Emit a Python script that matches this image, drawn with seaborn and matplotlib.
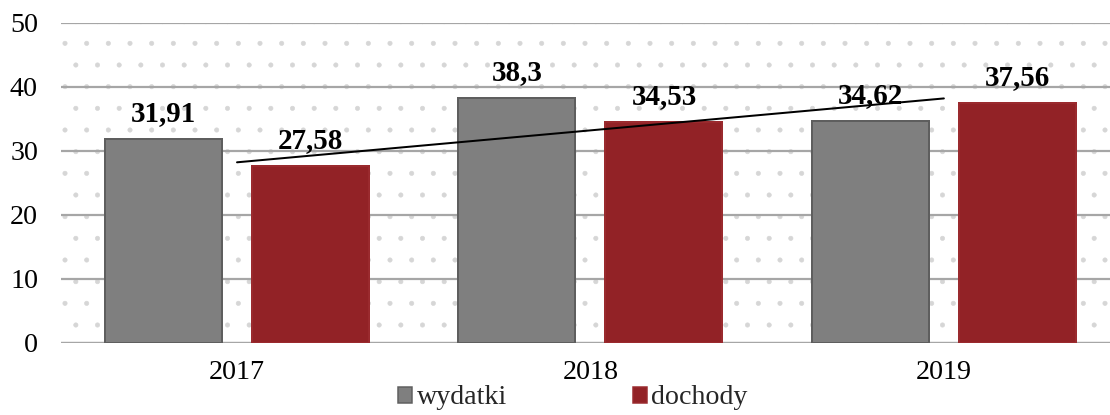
import numpy as np
import pandas as pd
import matplotlib
matplotlib.use("Agg")
import matplotlib.pyplot as plt
from matplotlib.patches import Rectangle, Patch
import seaborn as sns

years = ["2017", "2018", "2019"]
series_names = ["wydatki", "dochody"]
wydatki = [31.91, 38.3, 34.62]
dochody = [27.58, 34.53, 37.56]
y_ticks = [0, 10, 20, 30, 40, 50]

colors = {"wydatki": "#7f7f7f", "dochody": "#922226"}
edges = {"wydatki": "#5e5e5e", "dochody": "#9a2a2e"}

DPI = 130
W, H = 1110, 415


def pt(px):
    return px * 72.0 / DPI


df = pd.DataFrame({
    "rok": years * 2,
    "seria": [series_names[0]] * 3 + [series_names[1]] * 3,
    "wartosc": wydatki + dochody,
})

sns.set_theme(style="white")
plt.rcParams["font.family"] = ["Liberation Serif", "DejaVu Serif"]
plt.rcParams["hatch.linewidth"] = pt(0.6)

fig = plt.figure(figsize=(W / DPI, H / DPI), dpi=DPI)
ax = fig.add_axes([61 / W, 1 - 343 / H, 1 - 61 / W, 320 / H])

# dotted background
bg = Rectangle((0, 0), 1, 1, transform=ax.transAxes, facecolor="white",
               edgecolor="#d6d6d6", linewidth=0, hatch=".", zorder=0)
ax.add_patch(bg)
ax.patch.set_alpha(0)

sns.barplot(data=df, x="rok", y="wartosc", hue="seria", order=years,
            hue_order=series_names, palette=colors, width=0.832, gap=0.204,
            saturation=1, ax=ax, legend=False, zorder=3)

for cont, name in zip(ax.containers, series_names):
    for p in cont:
        p.set_edgecolor(edges[name])
        p.set_linewidth(pt(2))
    vals = [p.get_height() for p in cont]
    ax.bar_label(cont, labels=[f"{v:g}".replace(".", ",") for v in vals],
                 padding=pt(12), fontsize=pt(29), fontweight="bold",
                 color="black", zorder=6)

# linear trend for dochody
xs = np.arange(len(years))
k, b = np.polyfit(xs, dochody, 1)
ax.plot([xs[0], xs[-1]], [k * xs[0] + b, k * xs[-1] + b], color="black",
        lw=pt(2), zorder=7)

ax.set_ylim(0, 50)
ax.set_yticks(y_ticks)
ax.set_xlim(-0.498, 2.47)
ax.yaxis.grid(True, color="#a6a6a6", lw=pt(2.2), zorder=1)
ax.set_axisbelow(True)
for s in ax.spines.values():
    s.set_visible(False)
ax.axhline(0, color="#a6a6a6", lw=pt(2.2), zorder=2)
ax.set_xlabel("")
ax.set_ylabel("")
ax.tick_params(axis="y", length=0, pad=pt(23), labelsize=pt(28), labelcolor="black")
ax.tick_params(axis="x", length=0, pad=pt(17), labelsize=pt(28), labelcolor="black")

handles = [Patch(facecolor=colors[n], edgecolor=edges[n], lw=pt(1.5)) for n in series_names]
fig.legend(handles, series_names, loc="center", bbox_to_anchor=(573 / W, 1 - 398 / H),
           ncol=2, frameon=False, fontsize=pt(28), handlelength=0.5,
           handleheight=0.5, handletextpad=0.15, columnspacing=4.5,
           borderaxespad=0, borderpad=0)

fig.savefig("out.png", dpi=DPI)
